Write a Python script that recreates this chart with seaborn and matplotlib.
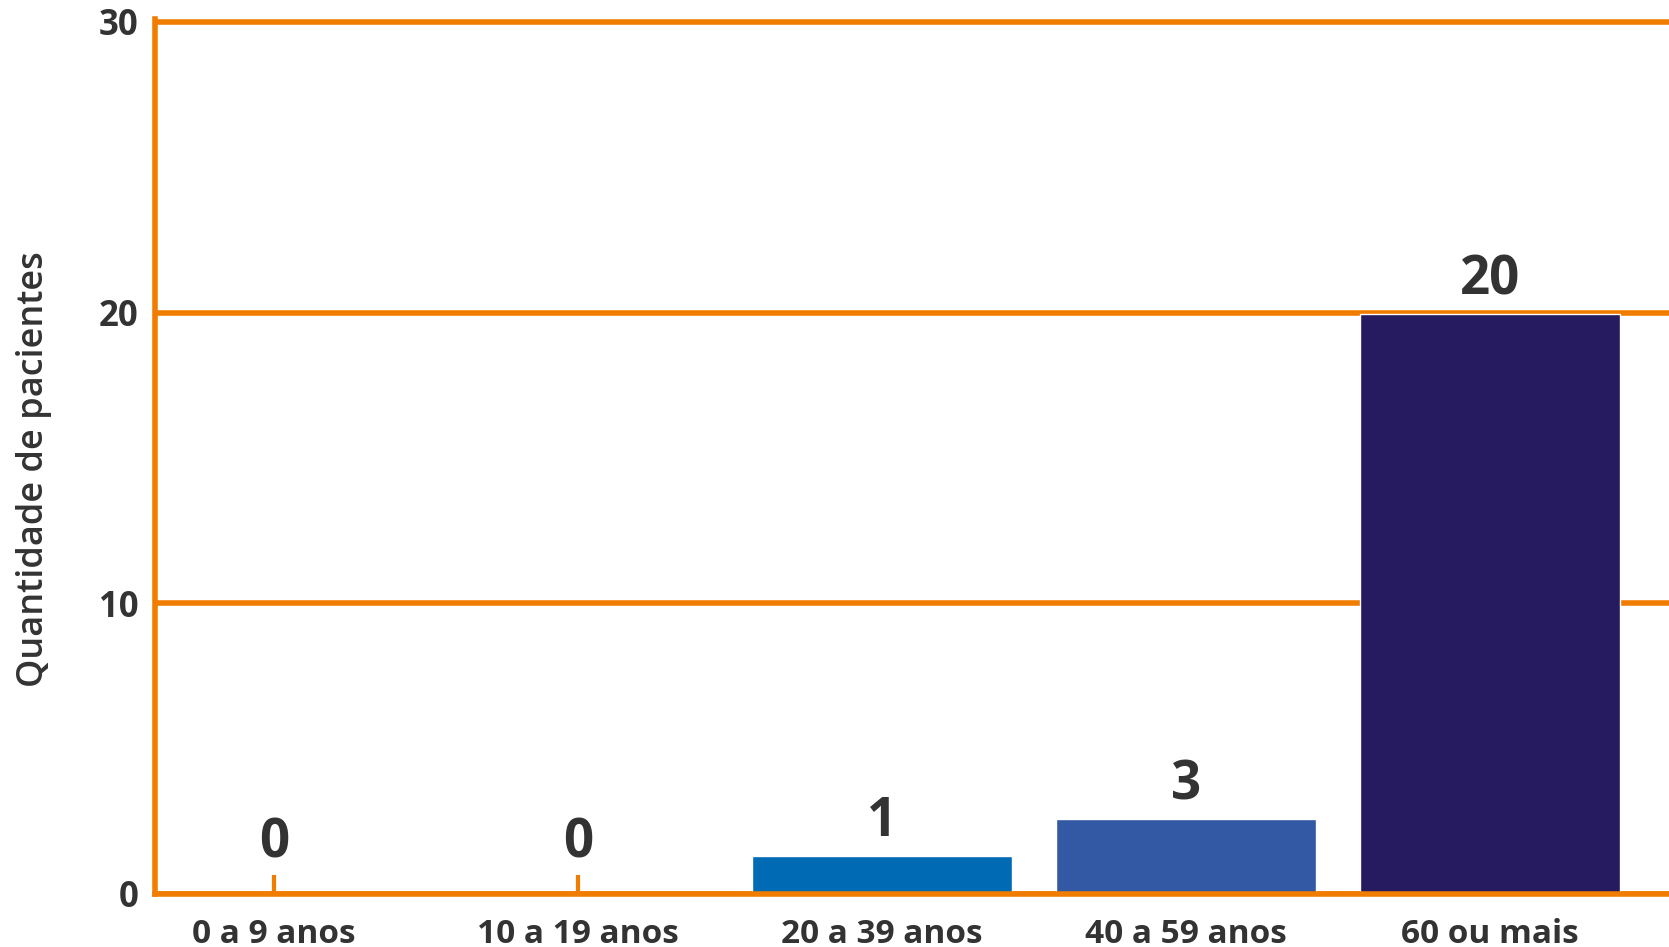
import matplotlib
matplotlib.use("Agg")
import matplotlib.pyplot as plt
import seaborn as sns
import pandas as pd

# Dados
faixas = ["0 a 9 anos", "10 a 19 anos", "20 a 39 anos", "40 a 59 anos", "60 ou mais"]
alturas = [0, 0, 1.3, 2.57, 19.95]        # altura das barras como desenhadas
rotulos = ["0", "0", "1", "3", "20"]       # valores escritos sobre as barras
cores = ["#006AB4", "#006AB4", "#006AB4", "#3358A4", "#261B61"]

laranja = "#F07D00"
texto = "#333333"

sns.set_theme(style="white")
plt.rcParams["font.family"] = ["Open Sans", "DejaVu Sans"]

df = pd.DataFrame({"faixa": faixas, "qtd": alturas})

fig = plt.figure(figsize=(16.69, 9.47), dpi=100)
ax = fig.add_axes([0.093, 0.056, 0.907, 0.924])

sns.barplot(data=df, x="faixa", y="qtd", hue="faixa", palette=cores,
            legend=False, width=0.855, saturation=1, ax=ax)

ax.set_xlim(-0.39, 4.59)
ax.set_ylim(0, 30.1)
ax.set_yticks([0, 10, 20, 30])

ax.set_axisbelow(True)
ax.yaxis.grid(True, color=laranja, linewidth=4)
ax.xaxis.grid(False)

for lado in ["top", "right"]:
    ax.spines[lado].set_visible(False)
for lado in ["left", "bottom"]:
    ax.spines[lado].set_color(laranja)
    ax.spines[lado].set_linewidth(4)
    ax.spines[lado].set_capstyle("projecting")

ax.tick_params(axis="x", bottom=True, direction="in", length=14, width=3, color=laranja,
               pad=17, labelsize=24, labelcolor=texto)
ax.tick_params(axis="y", left=False, length=0, pad=12, labelsize=25, labelcolor=texto)
for t in ax.get_xticklabels() + ax.get_yticklabels():
    t.set_fontweight("bold")

ax.set_xlabel("")
ax.set_ylabel("Quantidade de pacientes", fontsize=26, color=texto, fontweight="semibold")
ax.yaxis.set_label_coords(-0.068, 0.485)

for i, (h, r) in enumerate(zip(alturas, rotulos)):
    desloc = 17 if h == 0 else 5
    ax.annotate(r, (i, h), xytext=(0, desloc), textcoords="offset points",
                ha="center", va="bottom", fontsize=38, fontweight="bold", color=texto)

fig.savefig("out.png", dpi=100)
